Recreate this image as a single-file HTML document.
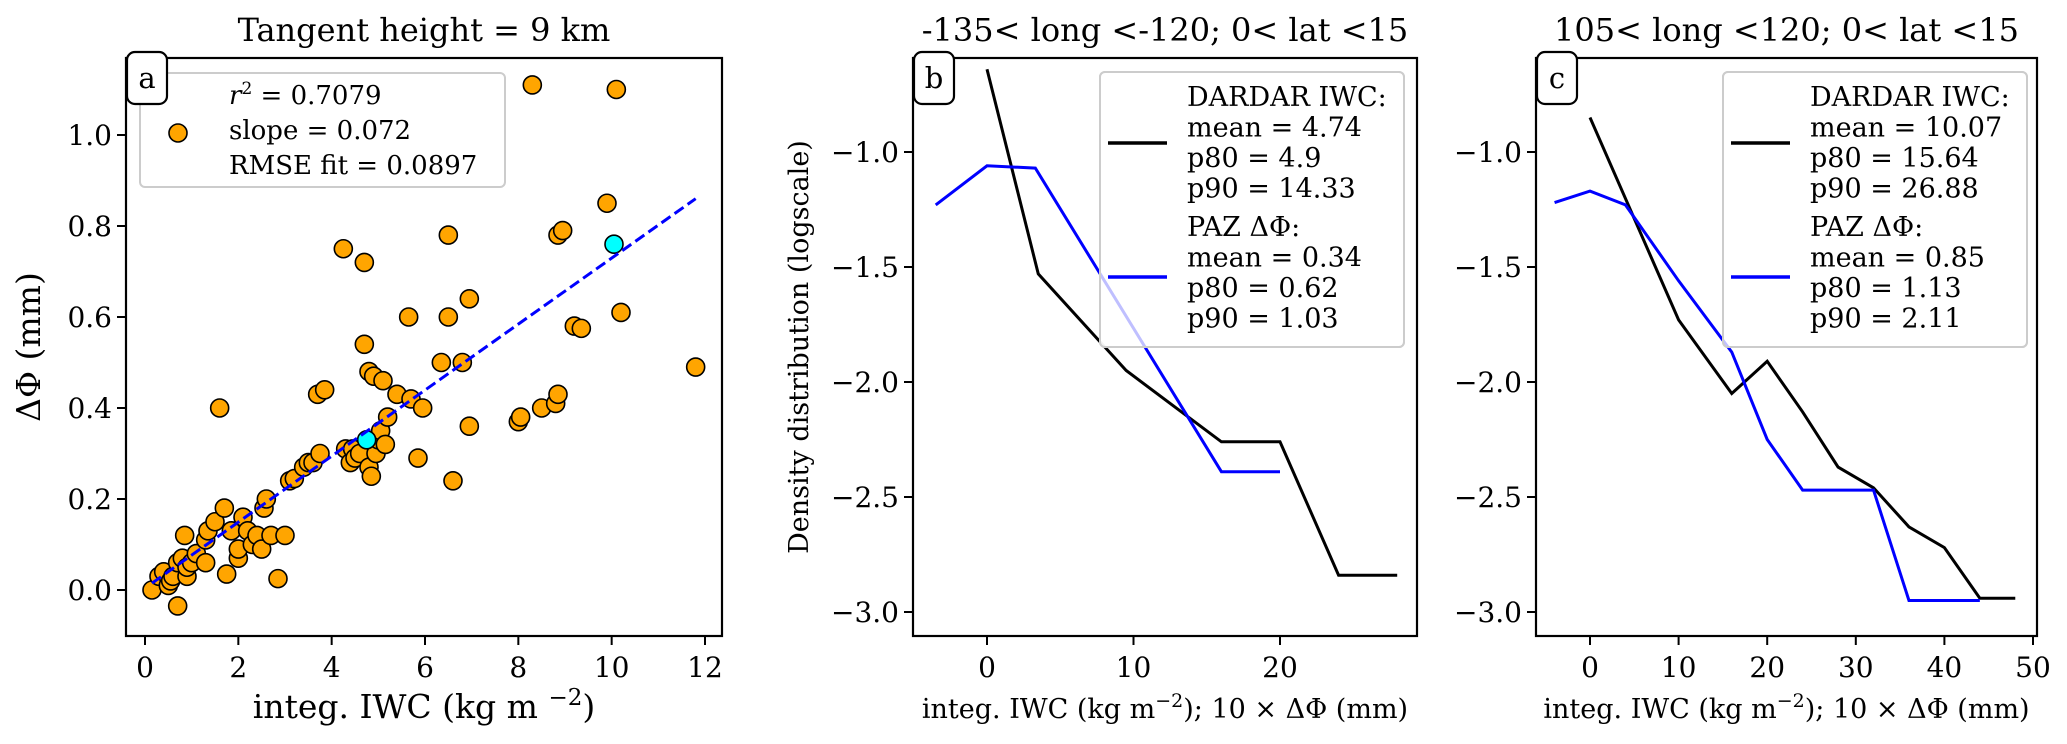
<!DOCTYPE html>
<html><head><meta charset="utf-8"><style>
html,body{margin:0;padding:0;background:#fff;}
svg{display:block;font-family:"DejaVu Serif","Liberation Serif",serif;}
svg text{font-family:"DejaVu Serif","Liberation Serif",serif;}
</style></head><body>
<svg id="fig" width="2067" height="744" viewBox="0 0 2067 744" xmlns="http://www.w3.org/2000/svg"></svg>
<script>
// Panel a data
const scatterX=[0.15,0.3,0.4,0.5,0.55,0.6,0.7,0.7,0.8,0.85,0.9,0.9,1.0,1.1,1.3,1.3,1.35,1.5,1.6,1.7,1.75,1.85,2.0,2.0,2.1,2.2,2.3,2.4,2.5,2.55,2.6,2.7,2.85,3.0,3.1,3.2,3.4,3.5,3.6,3.7,3.75,3.85,4.25,4.3,4.4,4.45,4.5,4.6,4.7,4.7,4.8,4.8,4.85,4.9,4.95,5.0,5.05,5.1,5.15,5.2,5.4,5.65,5.7,5.85,5.95,6.35,6.5,6.5,6.6,6.8,6.95,6.95,8.0,8.05,8.3,8.5,8.8,8.85,8.85,8.95,9.2,9.35,9.9,10.1,10.2,11.8];
const scatterY=[0,0.03,0.04,0.01,0.02,0.03,-0.035,0.06,0.07,0.12,0.03,0.05,0.06,0.08,0.06,0.11,0.13,0.15,0.40,0.18,0.035,0.13,0.07,0.09,0.16,0.13,0.10,0.12,0.09,0.18,0.20,0.12,0.025,0.12,0.24,0.245,0.27,0.28,0.28,0.43,0.30,0.44,0.75,0.31,0.28,0.31,0.29,0.30,0.72,0.54,0.48,0.27,0.25,0.47,0.30,0.33,0.35,0.46,0.32,0.38,0.43,0.60,0.42,0.29,0.40,0.50,0.78,0.60,0.24,0.50,0.64,0.36,0.37,0.38,1.11,0.40,0.41,0.43,0.78,0.79,0.58,0.575,0.85,1.10,0.61,0.49];
const highlightX=[4.75,10.05];
const highlightY=[0.33,0.76];
const fitX=[0.15,11.8];
const fitY=[0.015,0.86];
const aXTicks=[0,2,4,6,8,10,12];
const aYTicks=[0.0,0.2,0.4,0.6,0.8,1.0];
// Panel b data
const bDardarX=[0,3.5,9.5,16,20,24,28];
const bDardarY=[-0.64,-1.53,-1.95,-2.26,-2.26,-2.84,-2.84];
const bPazX=[-3.5,0,3.3,16,20];
const bPazY=[-1.23,-1.06,-1.07,-2.39,-2.39];
const bXTicks=[0,10,20];
// Panel c data
const cDardarX=[0,10,16,20,24,28,32,36,40,44,48];
const cDardarY=[-0.85,-1.73,-2.05,-1.91,-2.13,-2.37,-2.46,-2.63,-2.72,-2.94,-2.94];
const cPazX=[-4,0,4,10,16,20,24,32,36,44];
const cPazY=[-1.22,-1.17,-1.23,-1.56,-1.87,-2.25,-2.47,-2.47,-2.95,-2.95];
const cXTicks=[0,10,20,30,40,50];
const dYTicks=[-1.0,-1.5,-2.0,-2.5,-3.0];

const NS="http://www.w3.org/2000/svg";
const svg=document.getElementById('fig');
function mk(tag,attrs,parent){const e=document.createElementNS(NS,tag);for(const k in attrs)e.setAttribute(k,attrs[k]);(parent||svg).appendChild(e);return e;}
function txt(s,attrs,parent){const e=mk('text',attrs,parent);e.textContent=s;return e;}
function scale(d0,d1,p0,p1){return v=>p0+(v-d0)*(p1-p0)/(d1-d0);}
function fmt(v){return (v<0?'\u2212':'')+Math.abs(v).toFixed(1);}

function axes(name,L,R,T,B,xs,ys,xt,yt,xfmt,yfmt){
  const g=mk('g',{});
  
  
  const fr=mk('rect',{x:L,y:T,width:R-L,height:B-T,fill:'none',stroke:'#000','stroke-width':2.2},g);
  
  
  xt.forEach(v=>{const x=xs(v);mk('line',{x1:x,x2:x,y1:B,y2:B+9,stroke:'#000','stroke-width':2},g);
    const t=txt(xfmt(v),{x:x,y:B+41,'text-anchor':'middle','font-size':28},g);
    
    });
  yt.forEach(v=>{const y=ys(v);mk('line',{x1:L-9,x2:L,y1:y,y2:y,stroke:'#000','stroke-width':2},g);
    const t=txt(yfmt(v),{x:L-14,y:y+10,'text-anchor':'end','font-size':28},g);
    
    });
  return g;
}
function panelLabel(letter,x,y){
  const r=mk('rect',{x:x,y:y,width:40,height:52,rx:8,fill:'#fff',stroke:'#000','stroke-width':2.2});
  
  
  txt(letter,{x:x+20,y:y+36,'text-anchor':'middle','font-size':29});
}
function polyline(xsA,ysA,xs,ys,color,name,w){
  const pts=xsA.map((v,i)=>xs(v)+','+ys(ysA[i])).join(' ');
  const p=mk('polyline',{points:pts,fill:'none',stroke:color,'stroke-width':w||3,'stroke-linejoin':'miter'});
  
  
}

// ---- Panel a ----
const aL=126,aR=722,aT=58,aB=636;
const axS=scale(0,12,145,705), ayS=scale(0,1,590,135);
axes('panel-a-axes',aL,aR,aT,aB,axS,ayS,aXTicks,aYTicks,v=>String(v),v=>v.toFixed(1));
scatterX.forEach((v,i)=>{const c=mk('circle',{cx:axS(v),cy:ayS(scatterY[i]),r:9,fill:'#ffa500',stroke:'#000','stroke-width':1.6});
  
  });
highlightX.forEach((v,i)=>{const c=mk('circle',{cx:axS(v),cy:ayS(highlightY[i]),r:9,fill:'#00ffff',stroke:'#000','stroke-width':1.6});
  
  });
// fit line (drawn over points)
const fl=mk('line',{x1:axS(fitX[0]),y1:ayS(fitY[0]),x2:axS(fitX[1]),y2:ayS(fitY[1]),stroke:'#0000ff','stroke-width':3,'stroke-dasharray':'11,5'});


// legend a
const la=mk('rect',{x:140,y:73,width:365,height:114,rx:5,fill:'#fff','fill-opacity':0.8,stroke:'#ccc','stroke-width':2});


mk('circle',{cx:178,cy:133,r:9,fill:'#ffa500',stroke:'#000','stroke-width':1.6});
const lt=txt('',{x:229,y:104,'font-size':26});
lt.innerHTML='<tspan font-style="italic">r</tspan><tspan dy="-10" font-size="17">2</tspan><tspan dy="10"> = 0.7079</tspan>';
txt('slope = 0.072',{x:229,y:139,'font-size':26});
txt('RMSE fit = 0.0897',{x:229,y:174,'font-size':26});
panelLabel('a',127,52);
const ta=txt('Tangent height = 9 km',{x:424,y:41,'text-anchor':'middle','font-size':32});


const xa=txt('',{x:424,y:718,'text-anchor':'middle','font-size':33});
xa.innerHTML='integ. IWC (kg m <tspan dy="-13" font-size="23">\u22122</tspan><tspan dy="13">)</tspan>';


const ya=txt('\u0394\u03a6 (mm)',{x:0,y:0,'text-anchor':'middle','font-size':33,transform:'translate(40,347) rotate(-90)'});



// ---- Panels b and c ----
function densityPanel(id,L,R,xs,xt,dx,dy,px,py,title,leg){
  const ys=scale(-1,-3,152,612);
  axes('panel-'+id+'-axes',L,R,58,636,xs,ys,xt,dYTicks,v=>String(v),fmt);
  polyline(dx,dy,xs,ys,'#000','dardar-line-'+id,3);
  const lb=mk('rect',{x:L+187,y:72,width:304,height:275,rx:5,fill:'#fff','fill-opacity':0.8,stroke:'#ccc','stroke-width':2});
  
  
  polyline(px,py,xs,ys,'#0000ff','paz-line-'+id,3);
  mk('rect',{x:L+187,y:72,width:304,height:275,rx:5,fill:'#fff','fill-opacity':0.75,stroke:'#ccc','stroke-width':2});
  mk('line',{x1:L+195,x2:L+254,y1:143,y2:143,stroke:'#000','stroke-width':3.5});
  mk('line',{x1:L+195,x2:L+254,y1:277,y2:277,stroke:'#0000ff','stroke-width':3.5});
  leg.forEach((s,i)=>{const y=106+i*30.5+(i>=4?8:0);txt(s,{x:L+274,y:y,'font-size':27});});
  panelLabel(id,L+1,52);
  const t=txt(title,{x:(L+R)/2,y:41,'text-anchor':'middle','font-size':32});
  
  
  const xl=txt('',{x:(L+R)/2,y:718,'text-anchor':'middle','font-size':27});
  xl.innerHTML='integ. IWC (kg m<tspan dy="-11" font-size="19">\u22122</tspan><tspan dy="11">); 10 \u00d7 \u0394\u03a6  (mm)</tspan>';
  
  
}
densityPanel('b',913,1417,scale(0,20,987,1280),bXTicks,bDardarX,bDardarY,bPazX,bPazY,
  '-135< long <-120; 0< lat <15',['DARDAR IWC:','mean = 4.74','p80 = 4.9','p90 = 14.33','PAZ \u0394\u03a6:','mean = 0.34','p80 = 0.62','p90 = 1.03']);
densityPanel('c',1536,2037,scale(0,50,1590,2033),cXTicks,cDardarX,cDardarY,cPazX,cPazY,
  '105< long <120; 0< lat <15',['DARDAR IWC:','mean = 10.07','p80 = 15.64','p90 = 26.88','PAZ \u0394\u03a6:','mean = 0.85','p80 = 1.13','p90 = 2.11']);
const yb=txt('Density distribution (logscale)',{x:0,y:0,'text-anchor':'middle','font-size':27,transform:'translate(808,347) rotate(-90)'});


</script>
</body></html>
